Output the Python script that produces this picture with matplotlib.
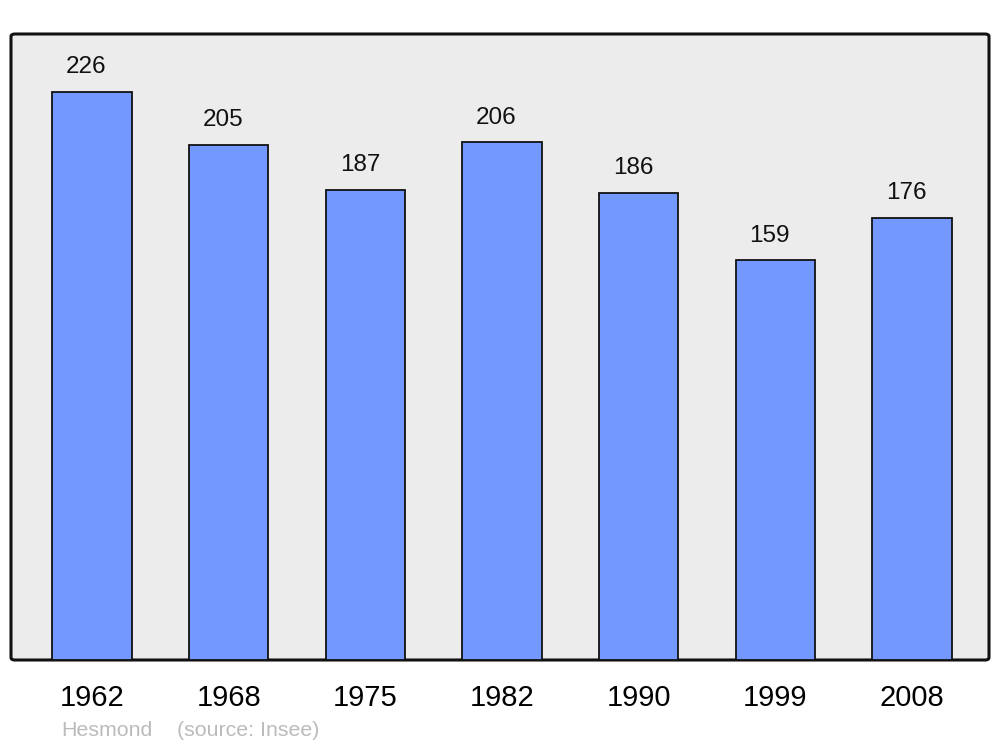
import matplotlib
matplotlib.use("Agg")
import matplotlib.pyplot as plt
from matplotlib.patches import FancyBboxPatch

years = ["1962", "1968", "1975", "1982", "1990", "1999", "2008"]
population = [226, 205, 187, 206, 186, 159, 176]
commune = "Hesmond"
source = "(source: Insee)"

plt.rcParams['font.family'] = ['Liberation Sans', 'DejaVu Sans']

fig = plt.figure(figsize=(10, 7.47), dpi=100)
ax = fig.add_axes([11/1000, 87/747, 978/1000, 626/747])
ax.set_facecolor('none')

bg = FancyBboxPatch((0, 0), 1, 1, boxstyle="round,pad=0,rounding_size=0.004",
                    transform=ax.transAxes, facecolor='#ececec', edgecolor='#111111',
                    linewidth=2.2, zorder=0, clip_on=False)
ax.add_patch(bg)

x = list(range(len(years)))
bars = ax.bar(x, population, width=0.58, color='#7399ff', edgecolor='#111111',
              linewidth=1.3, zorder=2)
for xi, v in zip(x, population):
    ax.annotate(str(v), (xi, v), xytext=(-4, 13.5), textcoords='offset points',
                ha='center', va='baseline', fontsize=17.5, color='#111111')

ax.set_xlim(-0.593, 6.563)
ax.set_ylim(0, 249.1)
ax.set_xticks(x)
ax.set_xticklabels(years, fontsize=21)
ax.tick_params(axis='x', length=0, pad=17)
ax.set_yticks([])
for s in ax.spines.values():
    s.set_visible(False)

fig.text(61/1000, 1 - 730/747, commune, fontsize=15.4, color='#bbbbbb',
         ha='left', va='center')
fig.text(177/1000, 1 - 730/747, source, fontsize=15.4, color='#bbbbbb',
         ha='left', va='center')

fig.savefig("out.png", dpi=100)
